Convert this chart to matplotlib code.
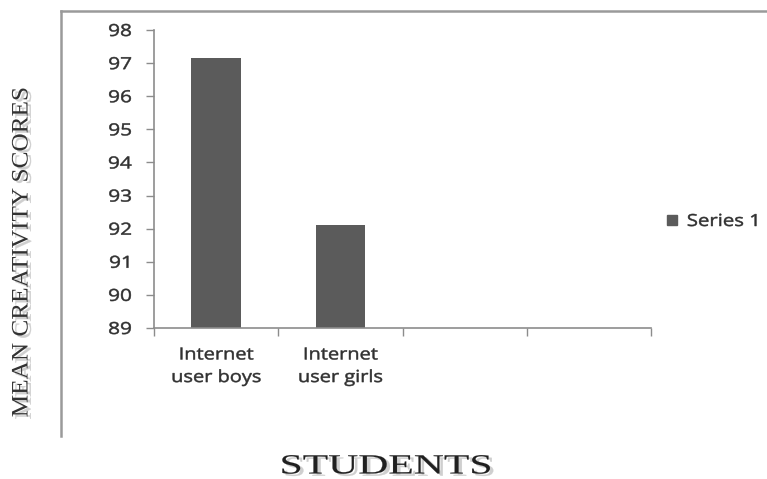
import numpy as np
import matplotlib
matplotlib.use("Agg")
import matplotlib.pyplot as plt
import matplotlib.colors as mcolors
from matplotlib.lines import Line2D
from matplotlib.patches import Patch
from matplotlib.patheffects import AbstractPathEffect
from matplotlib.transforms import Affine2D

# ---- data -------------------------------------------------------------
categories = ["Internet\nuser boys", "Internet\nuser girls", "", ""]
scores = [97.15, 92.12, np.nan, np.nan]
series_name = "Series 1"
y_ticks = [89, 90, 91, 92, 93, 94, 95, 96, 97, 98]
y_label = "MEAN CREATIVITY SCORES"
x_label = "STUDENTS"


class Stretch(AbstractPathEffect):
    """Draw text widened along its baseline, optionally as an offset shadow."""

    def __init__(self, sx=1.0, anchor="center", offset=(0, 0), color=None,
                 weight=0.0):
        super().__init__(offset)
        self.sx = sx
        self.anchor = anchor
        self.color = color
        self.weight = weight

    def draw_path(self, renderer, gc, tpath, affine, rgbFace=None):
        ext = tpath.get_extents()
        if self.anchor == "left":
            cx = ext.x0
        elif self.anchor == "right":
            cx = ext.x1
        else:
            cx = 0.5 * (ext.x0 + ext.x1)
        widen = Affine2D().translate(-cx, 0).scale(self.sx, 1).translate(cx, 0)
        gc0 = renderer.new_gc()
        gc0.copy_properties(gc)
        face = rgbFace
        if self.color is not None:
            face = mcolors.to_rgba(self.color)
            gc0.set_foreground(self.color)
        else:
            gc0.set_foreground(face)
        gc0.set_linewidth(self.weight)
        tr = widen + affine + self._offset_transform(renderer)
        renderer.draw_path(gc0, tpath, tr, face)
        gc0.restore()


W, H = 767, 479
fig = plt.figure(figsize=(W / 100, H / 100), dpi=100)
fig.patch.set_facecolor("white")

ax = fig.add_axes([154 / W, 1 - 328 / H, (651 - 154) / W, (328 - 30) / H])

bar_color = "#5b5b5b"
axis_color = "#8c8c8c"
text_color = "#303030"
sans = "Open Sans"
serif = "Liberation Serif"

x = np.arange(len(categories))
ax.bar(x, scores, width=0.4, color=bar_color, zorder=2)

ax.set_xlim(-0.5, len(categories) - 0.5)
ax.set_ylim(y_ticks[0], y_ticks[-1])
ax.set_yticks(y_ticks)
ax.set_yticklabels([str(t) for t in y_ticks], fontfamily=sans, fontsize=12,
                   color=text_color)

# category boundaries carry the tick marks, centres carry the labels
ax.set_xticks(np.arange(len(categories) + 1) - 0.5)
ax.set_xticklabels([])
ax.set_xticks(x, minor=True)
ax.set_xticklabels(categories, minor=True, fontfamily=sans, fontsize=12,
                   color=text_color, linespacing=1.55)
ax.tick_params(axis="x", which="minor", length=0, pad=14)
ax.tick_params(axis="x", which="major", length=6, width=1, color=axis_color,
               direction="out")
ax.tick_params(axis="y", length=6, width=1, color=axis_color, pad=10,
               direction="out")

for side in ("top", "right"):
    ax.spines[side].set_visible(False)
for side in ("left", "bottom"):
    ax.spines[side].set_color(axis_color)
    ax.spines[side].set_linewidth(1.2)

for lab in ax.get_yticklabels():
    lab.set_path_effects([Stretch(1.25, anchor="right", weight=0.35)])
for lab in ax.get_xticklabels(minor=True):
    lab.set_path_effects([Stretch(1.2, anchor="center", weight=0.35)])

# legend entry
handle = Patch(facecolor=bar_color, edgecolor=bar_color)
leg = fig.legend([handle], [series_name], loc="center left",
                 bbox_to_anchor=(652 / W, 1 - 222 / H), frameon=False,
                 prop={"family": sans, "size": 12}, handlelength=0.6,
                 handleheight=0.6, handletextpad=0.6)
for t in leg.get_texts():
    t.set_color(text_color)
    t.set_path_effects([Stretch(1.22, anchor="left", weight=0.35)])

# embossed serif axis titles
shadow_y = [Stretch(1.07, anchor="center", offset=(2.4, -1.6), color="#cfcfcf",
                    weight=0.2),
            Stretch(1.07, anchor="center", color="#333333", weight=0.0)]
fig.text(22 / W, 1 - 252 / H, y_label, rotation=90, ha="center", va="center",
         fontfamily=serif, fontsize=17, color="#333333", path_effects=shadow_y)

shadow_x = [Stretch(1.5, anchor="center", offset=(2.4, -1.6), color="#cfcfcf",
                    weight=0.2),
            Stretch(1.5, anchor="center", color="#202020", weight=0.1)]
fig.text(386 / W, 1 - 467 / H, x_label, ha="center", va="center",
         fontfamily=serif, fontsize=20, color="#202020", path_effects=shadow_x)

# outer chart-area border (top and left edges)
frame_kw = dict(color="#9a9a9a", linewidth=1.8, transform=fig.transFigure)
fig.add_artist(Line2D([61 / W, 1.0], [1 - 11 / H, 1 - 11 / H], **frame_kw))
fig.add_artist(Line2D([61 / W, 61 / W], [1 - 11 / H, 1 - 436 / H], **frame_kw))

fig.savefig("out.png", dpi=100, facecolor="white")
